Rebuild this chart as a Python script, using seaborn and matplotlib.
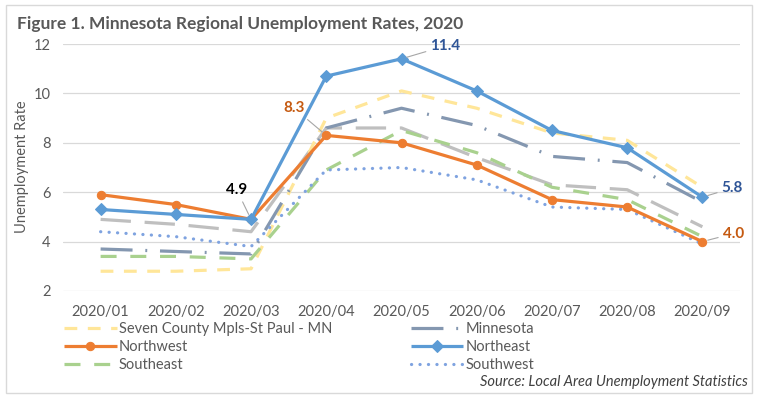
import matplotlib
matplotlib.use("Agg")
import matplotlib.pyplot as plt
import seaborn as sns
import pandas as pd
from matplotlib.patches import Rectangle

months = ["2020/01", "2020/02", "2020/03", "2020/04", "2020/05",
          "2020/06", "2020/07", "2020/08", "2020/09"]
seven_county = [2.8, 2.8, 2.9, 9.0, 10.1, 9.4, 8.4, 8.1, 6.2]
minnesota = [3.7, 3.6, 3.5, 8.6, 9.4, 8.7, 7.45, 7.2, 5.6]
northwest = [5.9, 5.5, 4.9, 8.3, 8.0, 7.1, 5.7, 5.4, 4.0]
northeast = [5.3, 5.1, 4.9, 10.7, 11.4, 10.1, 8.5, 7.8, 5.8]
southeast = [3.4, 3.4, 3.3, 6.9, 8.5, 7.6, 6.2, 5.7, 4.2]
southwest = [4.4, 4.2, 3.8, 6.9, 7.0, 6.5, 5.4, 5.3, 3.9]
other_region = [4.9, 4.7, 4.4, 8.6, 8.6, 7.4, 6.3, 6.1, 4.6]

sns.set_theme(style="white")
FONT = "Lato"
plt.rcParams["font.family"] = [FONT, "DejaVu Sans"]

fig = plt.figure(figsize=(7.58, 4.0), dpi=100)
ax = fig.add_axes([63/758, 1-291/400, (740-63)/758, (291-44)/400])

x = list(range(len(months)))

series = [
    ("_other", other_region, "#BFBFBF", 2.3, (9.5, 4.3), None, 0),
    ("Seven County Mpls-St Paul - MN", seven_county, "#FFE699", 2.3, (4.0, 3.3), None, 0),
    ("Minnesota", minnesota, "#8497B0", 2.3, (10, 4, 0.6, 4), None, 0),
    ("Southeast", southeast, "#A9D18E", 2.3, (5, 4.3), None, 0),
    ("Southwest", southwest, "#7FA3E0", 2.3, (0.05, 2.6), None, 0),
    ("Northwest", northwest, "#ED7D31", 2.3, None, "o", 6),
    ("Northeast", northeast, "#5B9BD5", 2.3, None, "D", 6.5),
]

handles = {}
for name, vals, color, lw, dashes, marker, ms in series:
    df = pd.DataFrame({"x": x, "y": vals})
    sns.lineplot(data=df, x="x", y="y", ax=ax, color=color, linewidth=lw,
                 marker=marker if marker else None, markersize=ms,
                 markeredgecolor=color, label=name, legend=False)
    line = ax.lines[-1]
    if dashes is not None:
        line.set_dashes(dashes)
        line.set_dash_capstyle("round" if name == "Southwest" else "butt")
    line.set_solid_capstyle("butt")
    handles[name] = line

ax.set_xlim(-0.5, len(months) - 0.5)
ax.set_ylim(2, 12)
ax.set_yticks([2, 4, 6, 8, 10, 12])
ax.set_xticks(x)
ax.set_xticklabels(months)
ax.grid(axis="y", color="#D9D9D9", linewidth=0.9)
ax.grid(axis="x", visible=False)
for s in ax.spines.values():
    s.set_visible(False)
ax.tick_params(axis="both", length=0, labelsize=10.5, colors="#595959")
ax.tick_params(axis="y", pad=9)
ax.tick_params(axis="x", pad=10)
ax.set_xlabel("")
ax.set_ylabel("")

fig.text(22/758, 1-167/400, "Unemployment Rate", rotation=90, va="center",
         ha="center", fontsize=10.5, color="#595959")
fig.text(17/758, 1-23.5/400, "Figure 1. Minnesota Regional Unemployment Rates, 2020",
         fontsize=12.5, fontweight="bold", color="#595959", va="center", ha="left")
fig.text(748/758, 1-382/400, "Source: Local Area Unemployment Statistics",
         fontsize=10.5, style="italic", color="#404040", ha="right", va="center")

order = ["Seven County Mpls-St Paul - MN", "Northwest", "Southeast",
         "Minnesota", "Northeast", "Southwest"]
leg = fig.legend([handles[n] for n in order], order, ncol=2,
                 loc="upper left", bbox_to_anchor=(64/758, 1-322/400),
                 frameon=False, fontsize=10.5, handlelength=3.6, numpoints=1,
                 handletextpad=0.15, columnspacing=5.4, labelspacing=0.28,
                 borderpad=0, borderaxespad=0)
for t in leg.get_texts():
    t.set_color("#595959")

lead = dict(arrowstyle="-", color="#A6A6A6", lw=0.8, shrinkA=1, shrinkB=4)
ann = [
    (4, northeast[4], "11.4", "#2F5597", (44, 13)),
    (3, northwest[3], "8.3", "#C55A11", (-32, 27)),
    (2, northwest[2], "4.9", "#000000", (-14, 29)),
    (8, northeast[8], "5.8", "#2F5597", (30, 9)),
    (8, northwest[8], "4.0", "#C55A11", (31, 8)),
]
for xi, yi, txt, col, off in ann:
    ax.annotate(txt, xy=(xi, yi), xytext=(off[0]*0.72, off[1]*0.72),
                textcoords="offset points", ha="center", va="center",
                fontsize=11, fontweight="bold", color=col, arrowprops=lead,
                annotation_clip=False)

fig.patches.append(Rectangle((6/758, 7/400), 746/758, 388/400, transform=fig.transFigure,
                             fill=False, edgecolor="#D9D9D9", linewidth=1))

fig.savefig("out.png", dpi=100, facecolor="white")
